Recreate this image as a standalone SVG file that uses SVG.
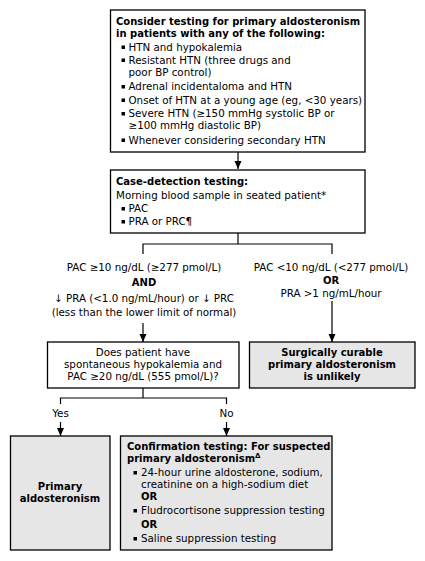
<svg xmlns="http://www.w3.org/2000/svg" width="425" height="561" viewBox="0 0 425 561">
<defs>
<marker id="ah" viewBox="0 0 8 8" refX="8" refY="4" markerWidth="8" markerHeight="8" markerUnits="userSpaceOnUse" orient="auto">
<path d="M0,0.5 L8,4 L0,7.5 z" fill="#000"/>
</marker>
</defs>
<style>
text{font-family:"DejaVu Sans","Verdana",sans-serif;font-size:10.3px;fill:#000}
.b{font-weight:bold;font-size:10px}
.c{text-anchor:middle}
.box{fill:#fff;stroke:#000;stroke-width:1.3}
.gbox{fill:#e6e6e6;stroke:#000;stroke-width:1.3}
.ln{fill:none;stroke:#000;stroke-width:1.2}
.ar{fill:none;stroke:#000;stroke-width:1.2;marker-end:url(#ah)}
.bl{fill:#000}
.sup{font-size:7px}
</style>
<rect width="425" height="561" fill="#fff"/>
<g id="connectors">
<line class="ar" x1="238" y1="152" x2="238" y2="169"/>
<polyline class="ln" points="238,233 238,244"/>
<polyline class="ln" points="143,254 143,244 332,244 332,254"/>
<line class="ar" x1="143" y1="323" x2="143" y2="342"/>
<line class="ar" x1="332" y1="301" x2="332" y2="342"/>
<polyline class="ln" points="143,388 143,398"/>
<polyline class="ln" points="60.5,404 60.5,398 226.5,398 226.5,404"/>
<line class="ar" x1="60.5" y1="422" x2="60.5" y2="436"/>
<line class="ar" x1="226.5" y1="422" x2="226.5" y2="436"/>
</g>
<g id="n1">
<rect class="box" x="110.5" y="10" width="254.5" height="142"/>
<text class="b" x="116" y="25">Consider testing for primary aldosteronism</text>
<text class="b" x="116" y="37">in patients with any of the following:</text>
<rect class="bl" x="121.5" y="45.5" width="3.5" height="3.5"/>
<text x="128.5" y="50.5">HTN and hypokalemia</text>
<rect class="bl" x="121.5" y="58.5" width="3.5" height="3.5"/>
<text x="128.5" y="63.5">Resistant HTN (three drugs and</text>
<text x="128.5" y="75.5">poor BP control)</text>
<rect class="bl" x="121.5" y="85" width="3.5" height="3.5"/>
<text x="128.5" y="90">Adrenal incidentaloma and HTN</text>
<rect class="bl" x="121.5" y="98.5" width="3.5" height="3.5"/>
<text x="128.5" y="103.5">Onset of HTN at a young age (eg, &lt;30 years)</text>
<rect class="bl" x="121.5" y="112" width="3.5" height="3.5"/>
<text x="128.5" y="117">Severe HTN (≥150 mmHg systolic BP or</text>
<text x="128.5" y="129">≥100 mmHg diastolic BP)</text>
<rect class="bl" x="121.5" y="138.5" width="3.5" height="3.5"/>
<text x="128.5" y="143.5">Whenever considering secondary HTN</text>
</g>
<g id="n2">
<rect class="box" x="110.5" y="170" width="254.5" height="63"/>
<text class="b" x="116" y="185">Case-detection testing:</text>
<text x="116" y="198.5">Morning blood sample in seated patient*</text>
<rect class="bl" x="121.5" y="207" width="3.5" height="3.5"/>
<text x="128.5" y="212">PAC</text>
<rect class="bl" x="121.5" y="220" width="3.5" height="3.5"/>
<text x="128.5" y="225">PRA or PRC¶</text>
</g>
<g id="n_left_cond">
<text class="c" x="144" y="270.5">PAC ≥10 ng/dL (≥277 pmol/L)</text>
<text class="c b" x="144" y="285.5">AND</text>
<text class="c" x="144" y="301.5">↓ PRA (&lt;1.0 ng/mL/hour) or ↓ PRC</text>
<text class="c" x="144" y="315.5">(less than the lower limit of normal)</text>
</g>
<g id="n_right_cond">
<text class="c" x="331" y="270.5">PAC &lt;10 ng/dL (&lt;277 pmol/L)</text>
<text class="c b" x="331" y="283.5">OR</text>
<text class="c" x="331" y="296.5">PRA &gt;1 ng/mL/hour</text>
</g>
<g id="n3">
<rect class="box" x="47.5" y="342" width="191.5" height="46"/>
<text class="c" x="143" y="355.5">Does patient have</text>
<text class="c" x="143" y="367.5">spontaneous hypokalemia and</text>
<text class="c" x="143" y="379.5">PAC ≥20 ng/dL (555 pmol/L)?</text>
</g>
<g id="n4">
<rect class="gbox" x="249.5" y="342" width="165.5" height="46"/>
<text class="c b" x="332" y="355.5">Surgically curable</text>
<text class="c b" x="332" y="367.5">primary aldosteronism</text>
<text class="c b" x="332" y="379.5">is unlikely</text>
</g>
<g id="labels">
<text class="c" x="60.5" y="416.5">Yes</text>
<text class="c" x="226.5" y="416.5">No</text>
</g>
<g id="n5">
<rect class="gbox" x="10.5" y="436" width="99.5" height="114"/>
<text class="c b" x="60" y="490">Primary</text>
<text class="c b" x="60" y="502">aldosteronism</text>
</g>
<g id="n6">
<rect class="gbox" x="120.5" y="436" width="211.5" height="114"/>
<text class="b" x="127" y="450">Confirmation testing: For suspected</text>
<text class="b" x="127" y="462">primary aldosteronism<tspan class="sup" dy="-4">Δ</tspan></text>
<rect class="bl" x="133.5" y="471" width="3.5" height="3.5"/>
<text x="141" y="476">24-hour urine aldosterone, sodium,</text>
<text x="141" y="488">creatinine on a high-sodium diet</text>
<text class="b" x="141" y="500">OR</text>
<rect class="bl" x="133.5" y="509" width="3.5" height="3.5"/>
<text x="141" y="514">Fludrocortisone suppression testing</text>
<text class="b" x="141" y="527.5">OR</text>
<rect class="bl" x="133.5" y="537" width="3.5" height="3.5"/>
<text x="141" y="542">Saline suppression testing</text>
</g>
</svg>
